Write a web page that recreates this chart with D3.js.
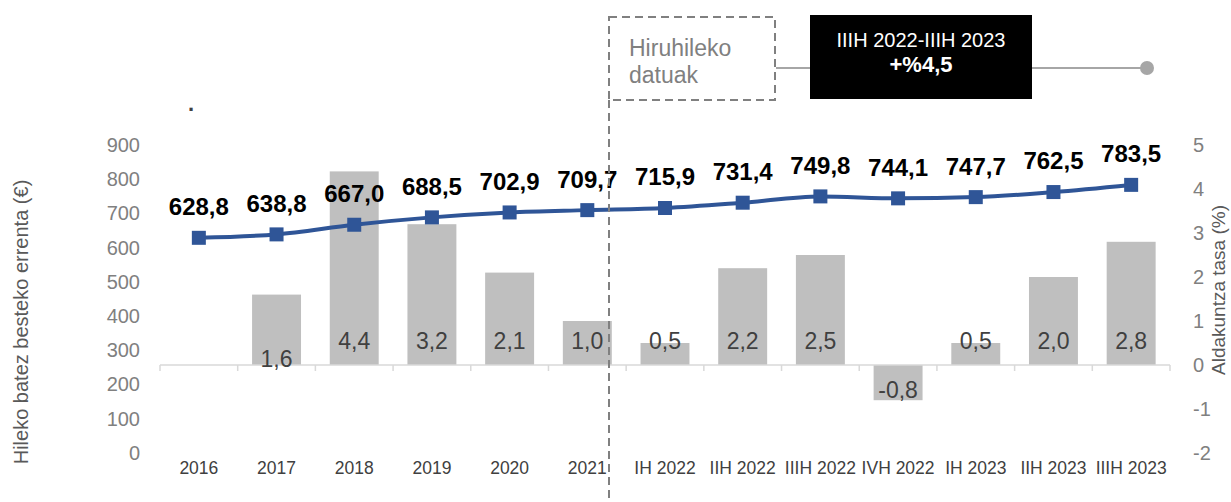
<!DOCTYPE html>
<html>
<head>
<meta charset="utf-8">
<script src="https://cdn.jsdelivr.net/npm/d3@7"></script>
<style>
  body { margin: 0; background: #fff; }
  svg { font-family: "Liberation Sans", Arial, sans-serif; }
</style>
</head>
<body>
<div id="chart"></div>
<script>
// chart data
const categories = ["2016", "2017", "2018", "2019", "2020", "2021", "IH 2022", "IIH 2022", "IIIH 2022", "IVH 2022", "IH 2023", "IIH 2023", "IIIH 2023"];
const income = [628.8, 638.8, 667.0, 688.5, 702.9, 709.7, 715.9, 731.4, 749.8, 744.1, 747.7, 762.5, 783.5];
const rate = [null, 1.6, 4.4, 3.2, 2.1, 1.0, 0.5, 2.2, 2.5, -0.8, 0.5, 2.0, 2.8];
const leftTicks = [0, 100, 200, 300, 400, 500, 600, 700, 800, 900];
const rightTicks = [-2, -1, 0, 1, 2, 3, 4, 5];

// decimal comma, plain hyphen for negatives
const fmt = v => v.toFixed(1).replace(".", ",");

const width = 1231;
const height = 502;

const svg = d3.select("#chart")
  .append("svg")
  .attr("width", width)
  .attr("height", height);

const x = d3.scaleBand().domain(categories).range([160, 1170]).padding(0);
const yL = d3.scaleLinear().domain([0, 900]).range([453, 145]);
const yR = d3.scaleLinear().domain([-2, 5]).range([453, 145]);
const barW = x.bandwidth() * 0.63;

// bars (right axis)
const bars = categories.map((c, i) => ({ c: c, v: rate[i] })).filter(d => d.v !== null);

svg.selectAll(".bar")
  .data(bars)
  .enter()
  .append("rect")
  .attr("class", "bar")
  .attr("x", d => x(d.c) + (x.bandwidth() - barW) / 2)
  .attr("y", d => yR(Math.max(0, d.v)))
  .attr("width", barW)
  .attr("height", d => Math.abs(yR(d.v) - yR(0)))
  .style("fill", "#BFBFBF");

// category axis line and tick marks at the band edges
svg.append("line")
  .attr("x1", x.range()[0]).attr("x2", x.range()[1])
  .attr("y1", yR(0)).attr("y2", yR(0))
  .style("stroke", "#D9D9D9").style("stroke-width", 1.5);

const edges = categories.map(c => x(c)).concat([x.range()[1]]);
svg.selectAll(".edge")
  .data(edges)
  .enter()
  .append("line")
  .attr("x1", d => d).attr("x2", d => d)
  .attr("y1", yR(0)).attr("y2", yR(0) + 6)
  .style("stroke", "#D9D9D9").style("stroke-width", 1.5);

// bar labels, inside base
svg.selectAll(".barlabel")
  .data(bars)
  .enter()
  .append("text")
  .attr("x", d => x(d.c) + x.bandwidth() / 2)
  .attr("y", d => d.v < 0 ? yR(d.v) - 10 : (d.v < 2 && d.v > 1.5 ? yR(0) - 6 : yR(0) - 24))
  .attr("dy", "0.35em")
  .attr("text-anchor", "middle")
  .style("font-size", "23px")
  .style("fill", "#404040")
  .text(d => fmt(d.v));

// left axis
const leftAxis = svg.append("g")
  .attr("transform", "translate(160,0)")
  .call(d3.axisLeft(yL).tickValues(leftTicks).tickSize(0).tickPadding(20));
leftAxis.select(".domain").remove();
leftAxis.selectAll("text")
  .style("font-size", "20px")
  .style("fill", "#808080")
  .style("font-family", "Liberation Sans, Arial, sans-serif");

// right axis
const rightAxis = svg.append("g")
  .attr("transform", "translate(1170,0)")
  .call(d3.axisRight(yR).tickValues(rightTicks).tickFormat(d => String(d)).tickSize(0).tickPadding(23));
rightAxis.select(".domain").remove();
rightAxis.selectAll("text")
  .style("font-size", "20px")
  .style("fill", "#808080")
  .style("font-family", "Liberation Sans, Arial, sans-serif");

// category labels
const bottomAxis = svg.append("g")
  .attr("transform", "translate(0,462)")
  .call(d3.axisBottom(x).tickSize(0).tickPadding(0));
bottomAxis.select(".domain").remove();
bottomAxis.selectAll("text")
  .style("font-size", "17.5px")
  .style("fill", "#404040")
  .style("font-family", "Liberation Sans, Arial, sans-serif");

// axis titles
svg.append("text")
  .attr("transform", "translate(28,322) rotate(-90)")
  .attr("text-anchor", "middle")
  .style("font-size", "20px")
  .style("fill", "#595959")
  .text("Hileko batez besteko errenta (€)");

svg.append("text")
  .attr("transform", "translate(1225,290) rotate(-90)")
  .attr("text-anchor", "middle")
  .style("font-size", "19px")
  .style("fill", "#595959")
  .text("Aldakuntza tasa (%)");

// income line
const line = d3.line()
  .x((d, i) => x(categories[i]) + x.bandwidth() / 2)
  .y(d => yL(d))
  .curve(d3.curveMonotoneX);

svg.append("path")
  .datum(income)
  .attr("d", line)
  .style("fill", "none")
  .style("stroke", "#2F5597")
  .style("stroke-width", 4);

svg.selectAll(".marker")
  .data(income)
  .enter()
  .append("rect")
  .attr("x", (d, i) => x(categories[i]) + x.bandwidth() / 2 - 7)
  .attr("y", d => yL(d) - 7)
  .attr("width", 14)
  .attr("height", 14)
  .style("fill", "#2F5597");

svg.selectAll(".pointlabel")
  .data(income)
  .enter()
  .append("text")
  .attr("x", (d, i) => x(categories[i]) + x.bandwidth() / 2)
  .attr("y", d => yL(d) - 31)
  .attr("dy", "0.35em")
  .attr("text-anchor", "middle")
  .style("font-size", "24px")
  .style("font-weight", "bold")
  .style("fill", "#000")
  .text(d => fmt(d));

// stray dot
svg.append("text")
  .attr("x", 188).attr("y", 111)
  .style("font-size", "22px")
  .style("font-weight", "bold")
  .style("fill", "#404040")
  .text(".");

// quarterly data separator and note
svg.append("line")
  .attr("x1", 609).attr("x2", 609)
  .attr("y1", 100).attr("y2", height)
  .style("stroke", "#808080").style("stroke-width", 2)
  .style("stroke-dasharray", "8,5");

svg.append("rect")
  .attr("x", 609).attr("y", 17)
  .attr("width", 166).attr("height", 83)
  .style("fill", "#fff")
  .style("stroke", "#808080").style("stroke-width", 2)
  .style("stroke-dasharray", "8,5");

svg.append("text").attr("x", 629).attr("y", 56)
  .style("font-size", "23px").style("fill", "#808080").text("Hiruhileko");
svg.append("text").attr("x", 629).attr("y", 83)
  .style("font-size", "23px").style("fill", "#808080").text("datuak");

svg.append("line")
  .attr("x1", 776).attr("x2", 1147)
  .attr("y1", 68).attr("y2", 68)
  .style("stroke", "#A6A6A6").style("stroke-width", 2);

svg.append("circle")
  .attr("cx", 1147).attr("cy", 68).attr("r", 7)
  .style("fill", "#A6A6A6");

svg.append("rect")
  .attr("x", 810).attr("y", 15)
  .attr("width", 222).attr("height", 84)
  .style("fill", "#000");

svg.append("text").attr("x", 921).attr("y", 47)
  .attr("text-anchor", "middle")
  .style("font-size", "20px").style("fill", "#fff").text("IIIH 2022-IIIH 2023");
svg.append("text").attr("x", 921).attr("y", 72)
  .attr("text-anchor", "middle")
  .style("font-size", "22px").style("font-weight", "bold").style("fill", "#fff").text("+%4,5");
</script>
</body>
</html>
